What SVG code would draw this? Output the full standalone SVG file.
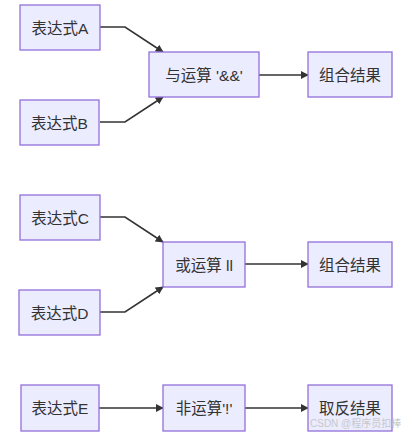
<svg xmlns="http://www.w3.org/2000/svg" width="401" height="435" viewBox="0 0 401 435">
<defs>
<marker id="arrow" viewBox="0 0 10 10" refX="9" refY="5" markerWidth="8" markerHeight="8" markerUnits="userSpaceOnUse" orient="auto">
<path d="M0,0 L10,5 L0,10 z" fill="#333333"/>
</marker>
<style>
.node rect{fill:#ECECFF;stroke:#9370DB;stroke-width:1.3}
.node text{font-family:"Liberation Sans","Noto Sans CJK SC",sans-serif;font-size:15.5px;fill:#333333;text-anchor:middle;dominant-baseline:central}
.edge{fill:none;stroke:#333333;stroke-width:1.6;marker-end:url(#arrow)}
.wm{font-family:"Liberation Sans","Noto Sans CJK SC",sans-serif;font-size:10px;fill:#c8c8c8}
</style>
</defs>
<rect width="401" height="435" fill="#ffffff"/>
<g id="connectors">
<path class="edge" d="M100,27 L125,27 L163,52"/>
<path class="edge" d="M100,122 L125,122 L163,97"/>
<path class="edge" d="M259,75 L308,75"/>
<path class="edge" d="M100,217 L125,217 L163,242"/>
<path class="edge" d="M100,312 L125,312 L163,287"/>
<path class="edge" d="M245,264 L308,264"/>
<path class="edge" d="M99,408 L163,408"/>
<path class="edge" d="M245,408 L308,408"/>
</g>
<g id="A" class="node"><rect x="20" y="5" width="80" height="45"/><text x="60" y="28">表达式A</text></g>
<g id="B" class="node"><rect x="20" y="100" width="79" height="45"/><text x="59.5" y="123">表达式B</text></g>
<g id="AND" class="node"><rect x="149" y="52" width="110" height="45"/><text x="204" y="75">与运算 '&amp;&amp;'</text></g>
<g id="R1" class="node"><rect x="308" y="52" width="84" height="45"/><text x="350" y="75">组合结果</text></g>
<g id="C" class="node"><rect x="20" y="195" width="80" height="45"/><text x="60" y="218">表达式C</text></g>
<g id="D" class="node"><rect x="19" y="290" width="81" height="45"/><text x="59.5" y="313">表达式D</text></g>
<g id="OR" class="node"><rect x="163" y="242" width="82" height="45"/><text x="204" y="265">或运算 ll</text></g>
<g id="R2" class="node"><rect x="308" y="242" width="84" height="45"/><text x="350" y="265">组合结果</text></g>
<g id="E" class="node"><rect x="21" y="385" width="78" height="46"/><text x="60" y="408">表达式E</text></g>
<g id="NOT" class="node"><rect x="163" y="385" width="82" height="46"/><text x="204" y="408">非运算'!'</text></g>
<g id="R3" class="node"><rect x="308" y="385" width="84" height="46"/><text x="350" y="408">取反结果</text></g>
<text class="wm" x="310" y="427">CSDN @程序员扣棒</text>
</svg>
